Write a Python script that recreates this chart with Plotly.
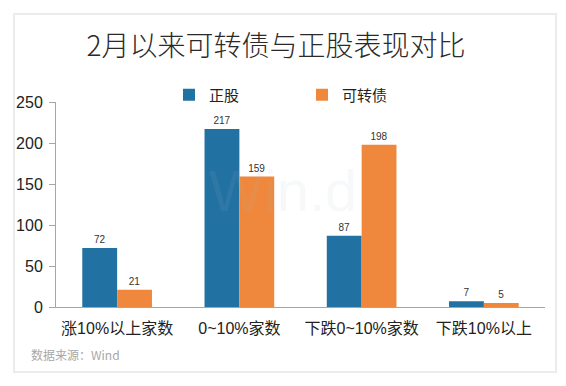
import plotly.graph_objects as go

categories = ["涨10%以上家数", "0~10%家数", "下跌0~10%家数", "下跌10%以上"]
stock_values = [72, 217, 87, 7]
cb_values = [21, 159, 198, 5]
y_ticks = [0, 50, 100, 150, 200, 250]

BLUE = "#2271A3"
ORANGE = "#EF883C"
FONT = "Liberation Sans, Noto Sans CJK SC, sans-serif"
CJK = "Noto Sans CJK SC, sans-serif"

# page has an 8px body margin; figure is drawn at offset (8, 8)
OFF = 8
W, H = 566 - OFF, 386 - OFF
# plot area in page pixels: x 56..545, y 102..307
L = 56 - OFF
T = 102 - OFF
R = W - (545 - OFF)
B = H - (307 - OFF)
pw = W - L - R
ph = H - T - B

def px_x(px):
    return (px - OFF - L) / pw

def px_y(py):
    return (H - B - (py - OFF)) / ph

fig = go.Figure()
fig.add_trace(go.Bar(
    x=categories, y=stock_values, name="正股",
    marker=dict(color=BLUE, line=dict(width=0)),
    text=[str(v) for v in stock_values], textposition="outside",
    textfont=dict(size=10, color="#333333", family=FONT),
    cliponaxis=False,
))
fig.add_trace(go.Bar(
    x=categories, y=cb_values, name="可转债",
    marker=dict(color=ORANGE, line=dict(width=0)),
    text=[str(v) for v in cb_values], textposition="outside",
    textfont=dict(size=10, color="#333333", family=FONT),
    cliponaxis=False,
))

fig.update_layout(
    width=W, height=H,
    margin=dict(l=L, r=R, t=T, b=B, autoexpand=False),
    paper_bgcolor="white", plot_bgcolor="white",
    font=dict(family=FONT, color="#333333"),
    barmode="group", bargap=0.43, bargroupgap=0,
    title=dict(text="2月以来可转债与正股表现对比", x=(276 - OFF) / W, xanchor="center",
               xref="container", y=1 - (46 - OFF) / H, yanchor="middle", yref="container",
               font=dict(size=28, color="#2a2a2a", family=CJK, weight=300)),
    legend=dict(orientation="h", x=px_x(169), xanchor="left", y=px_y(95), yanchor="middle",
                font=dict(size=15, color="#222222", family=CJK),
                entrywidth=88, entrywidthmode="pixels", itemwidth=30,
                bgcolor="rgba(0,0,0,0)", traceorder="normal"),
    xaxis=dict(showline=True, linecolor="#A6A6A6", linewidth=1, ticks="",
               ticklabelstandoff=7, automargin=False,
               tickfont=dict(size=16, color="#222222"), showgrid=False, zeroline=False),
    yaxis=dict(range=[0, 250], tickvals=y_ticks, showline=True, linecolor="#A6A6A6",
               linewidth=1, ticks="outside", ticklen=6, tickcolor="#A6A6A6",
               ticklabelstandoff=3, automargin=False,
               tickfont=dict(size=16, color="#222222"), showgrid=False, zeroline=False),
    shapes=[dict(type="rect", xref="paper", yref="paper",
                 x0=px_x(14), x1=px_x(556), y0=px_y(372), y1=px_y(14),
                 line=dict(color="#EBEBEB", width=2), fillcolor="rgba(0,0,0,0)", layer="below")],
    annotations=[
        dict(text="数据来源：Wind", xref="paper", yref="paper", x=px_x(29), y=px_y(354),
             xanchor="left", yanchor="middle", showarrow=False,
             font=dict(size=12, color="#A8A8A8", family=CJK)),
        dict(text="Win.d", xref="paper", yref="paper", x=px_x(283), y=px_y(190),
             xanchor="center", yanchor="middle", showarrow=False,
             font=dict(size=58, color="rgba(170,185,200,0.10)", family="Liberation Sans")),
    ],
)

fig.write_html("out.html")
